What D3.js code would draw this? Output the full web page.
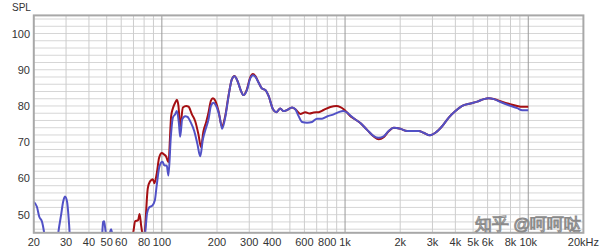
<!DOCTYPE html>
<html>
<head>
<meta charset="utf-8">
<script src="https://cdn.jsdelivr.net/npm/d3@7"></script>
<style>
  body { margin: 0; background: #fff; }
  text { font-family: "Liberation Sans", Arial, sans-serif; }
</style>
</head>
<body>
<div id="chart"></div>
<script>
// tick labels
var yTicks = [50, 60, 70, 80, 90, 100];
var xTicks = [20, 30, 40, 50, 60, 80, 100, 200, 300, 400, 600, 800, 1000, 2000, 3000, 4000, 5000, 6000, 8000, 10000, 20000];
var xTickLabels = ["20", "30", "40", "50", "60", "80", "100", "200", "300", "400", "600", "800", "1k", "2k", "3k", "4k", "5k", "6k", "8k", "10k", "20kHz"];

// red series [Hz, dB]
var redCurve = [
  [60, 40], [69.7, 45], [71.5, 48.2], [74.2, 48.5], [75.6, 50.2], [77.1, 47], [78.6, 44], [79.5, 42],
  [80.7, 45], [83.8, 57.3], [86.2, 59.2], [89.3, 59.8], [91.1, 58.7], [93.9, 61.5], [96.6, 65.7],
  [100, 67], [102.9, 66.6], [105.4, 66.1], [108.6, 64.5], [112.4, 77.2], [114.8, 79.3], [118.2, 80.9],
  [120.8, 81.7], [123.2, 80], [125.9, 74.4], [130.3, 79.6], [135.8, 80], [139.8, 79.8], [145.9, 77.7],
  [152.1, 75.8], [158.5, 72.1], [163.4, 68.7], [168.8, 73.1], [174.6, 75.6], [179.8, 78.2], [185.3, 81.5],
  [190, 82.1], [195.5, 81.5], [203.8, 78.6], [212.7, 74.4], [221.7, 77.2], [231.1, 82.8], [241.2, 87.4],
  [249.2, 88.3], [258.8, 86.9], [270.1, 84.2], [279.1, 83], [291.3, 84.6], [303.7, 87.9], [314.2, 88.8],
  [323.4, 88.3], [337.2, 86.5], [352, 84.8], [366.9, 84.4], [382.4, 82.8], [404.1, 79.1], [421.3, 78.3],
  [443.1, 79.3], [461.9, 78.6], [482.1, 78.9], [513.4, 79.6], [535.2, 79.1], [569.9, 77.8], [606.9, 78.3],
  [640.7, 77.9], [673.7, 78.2], [717.4, 78.3], [764.1, 78.9], [831.4, 79.7], [896.7, 80], [942.9, 79.7],
  [982.9, 79.1], [1025, 78.2], [1069, 77.2], [1114, 76.6], [1212, 75.3], [1319, 73.4], [1433, 71.6],
  [1526, 70.8], [1625, 71.4], [1730, 73], [1843, 74], [2005, 73.7], [2181, 73.1], [2370, 73.1],
  [2524, 73.1], [2688, 72.6], [2900, 71.9], [3114, 72.6], [3388, 74.4], [3682, 76.8], [4004, 78.6],
  [4358, 80], [4838, 80.7], [5264, 81.2], [5722, 81.9], [6092, 82.1], [6486, 81.9], [7056, 81.3],
  [7832, 80.6], [8708, 80], [9272, 79.8], [10000, 79.8]
];

// blue series [Hz, dB]
var blueCurve = [
  [20, 53.5], [20.8, 52.2], [21.4, 49.5], [22.2, 48], [22.7, 45.5], [23.2, 42], [25, 38], [26.8, 42],
  [27.3, 45.5], [28.2, 50], [28.9, 53.5], [29.6, 55], [30.4, 53.5], [31.1, 48], [31.7, 42], [38, 36],
  [45, 40], [47.2, 44.5], [47.8, 48], [48.4, 48.2], [49, 46.5], [49.6, 44.5], [51, 43], [52.2, 45.2],
  [52.8, 46], [53.5, 45], [54.5, 42], [65, 38], [78, 40], [81.1, 45], [83.1, 50.5], [85.3, 52],
  [88.6, 52.5], [91.6, 54], [93.7, 58], [97, 63.3], [100.7, 64.6], [103.3, 63.6], [106.4, 63.5],
  [108.6, 60.8], [112, 71.7], [114.8, 76.8], [118.2, 77.7], [120.8, 78.6], [123.8, 75.4], [125.9, 71.5],
  [129.1, 76.3], [134.1, 77.2], [138, 77], [144, 75.4], [150.2, 73.1], [156.5, 69.4], [161.9, 66.1],
  [167.5, 70.8], [173.1, 73.5], [179.8, 76.3], [185.3, 80], [191.4, 80.9], [198, 80], [206.4, 77.2],
  [213.5, 73.7], [221.7, 76.8], [231.1, 82.6], [241.2, 87.4], [249.2, 88.2], [258.8, 86.9], [270.1, 84.2],
  [279.1, 83], [291.3, 84.4], [303.7, 87.6], [314.2, 88.5], [323.4, 88.1], [337.2, 86.5], [352, 84.8],
  [366.9, 84.4], [382.4, 82.8], [404.1, 79.1], [421.3, 78.3], [443.1, 79.3], [461.9, 78.6], [482.1, 78.9],
  [513.4, 79.6], [535.2, 79.1], [557.9, 77.2], [582.2, 75.6], [620.1, 75.4], [660.3, 75.6], [703.2, 76.5],
  [748.8, 76.5], [797.5, 77.1], [866.7, 77.7], [922.9, 78.3], [975.5, 78.6], [1025, 78.2], [1069, 77.4],
  [1114, 76.6], [1212, 75.3], [1319, 73.4], [1433, 71.7], [1526, 71.2], [1625, 71.6], [1730, 73.1],
  [1843, 74], [2005, 73.7], [2181, 73.1], [2370, 73.1], [2524, 73.1], [2688, 72.6], [2900, 71.9],
  [3114, 72.6], [3388, 74.4], [3682, 76.8], [4004, 78.6], [4358, 80], [4838, 80.7], [5264, 81.2],
  [5722, 81.9], [6092, 82.1], [6486, 81.9], [7056, 81.1], [7832, 80.2], [8708, 79.4], [9272, 78.8],
  [10000, 78.8]
];

var width = 600, height = 252;
var plot = {left: 33.8, right: 583.4, top: 15.4, bottom: 232.8};

var svg = d3.select("#chart").append("svg")
  .attr("width", width)
  .attr("height", height);

// scales
var x = d3.scaleLog().domain([20, 20000]).range([plot.left, plot.right]);
var y = d3.scaleLinear().domain([45, 105]).range([plot.bottom, plot.top]);

// horizontal grid every 2 dB
var hLines = d3.range(46, 105, 2);
svg.append("g").selectAll("line")
  .data(hLines)
  .enter().append("line")
  .attr("x1", plot.left).attr("x2", plot.right)
  .attr("y1", function(d) { return y(d); })
  .attr("y2", function(d) { return y(d); })
  .attr("stroke", "#d6d6d6")
  .attr("stroke-width", 1);

// vertical grid 1..9 per decade, decades darker
var vLines = [];
[10, 100, 1000, 10000].forEach(function(dec) {
  for (var k = 1; k <= 9; k++) {
    var f = k * dec;
    if (f > 20 && f < 20000) vLines.push(f);
  }
});
svg.append("g").selectAll("line")
  .data(vLines)
  .enter().append("line")
  .attr("x1", function(d) { return x(d); })
  .attr("x2", function(d) { return x(d); })
  .attr("y1", plot.top).attr("y2", plot.bottom)
  .attr("stroke", function(d) { return [100, 1000, 10000].indexOf(d) >= 0 ? "#999999" : "#cdcdcd"; })
  .attr("stroke-width", 1);

// clip curves to the plot
svg.append("clipPath").attr("id", "plotClip")
  .append("rect")
  .attr("x", plot.left).attr("y", plot.top)
  .attr("width", plot.right - plot.left)
  .attr("height", plot.bottom - plot.top);

var line = d3.line()
  .x(function(d) { return x(d[0]); })
  .y(function(d) { return y(d[1]); })
  .curve(d3.curveMonotoneX);

var curves = svg.append("g").attr("clip-path", "url(#plotClip)");
curves.append("path")
  .datum(redCurve)
  .attr("d", line)
  .attr("fill", "none")
  .attr("stroke", "#a50f12")
  .attr("stroke-width", 2);
curves.append("path")
  .datum(blueCurve)
  .attr("d", line)
  .attr("fill", "none")
  .attr("stroke", "#5151c6")
  .attr("stroke-width", 2);

// frame
svg.append("rect")
  .attr("x", plot.left).attr("y", plot.top)
  .attr("width", plot.right - plot.left)
  .attr("height", plot.bottom - plot.top)
  .attr("fill", "none")
  .attr("stroke", "#a8a8a8")
  .attr("stroke-width", 2);

// y labels
svg.append("g").selectAll("text")
  .data(yTicks)
  .enter().append("text")
  .attr("x", 30)
  .attr("y", function(d) { return y(d) + 4; })
  .attr("text-anchor", "end")
  .attr("font-size", 11)
  .attr("fill", "#333")
  .text(function(d) { return d; });

svg.append("text")
  .attr("x", 12).attr("y", 11)
  .attr("font-size", 10)
  .attr("fill", "#333")
  .text("SPL");

// x labels
svg.append("g").selectAll("text")
  .data(xTicks)
  .enter().append("text")
  .attr("x", function(d) { return x(d); })
  .attr("y", 246)
  .attr("text-anchor", "middle")
  .attr("font-size", 11)
  .attr("fill", "#333")
  .text(function(d, i) { return xTickLabels[i]; });

// watermark
svg.append("text")
  .attr("x", 528).attr("y", 230)
  .attr("text-anchor", "middle")
  .attr("font-family", "Noto Sans CJK SC")
  .attr("font-size", 17)
  .attr("fill", "#ffffff")
  .attr("stroke", "#8a8a8a")
  .attr("stroke-width", 1)
  .text("知乎 @呵呵哒");
</script>
</body>
</html>
